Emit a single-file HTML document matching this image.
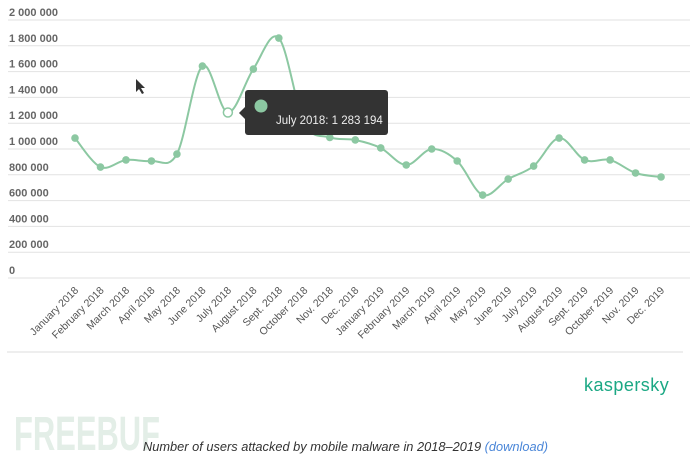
<!DOCTYPE html>
<html><head><meta charset="utf-8"><style>
body{margin:0;background:#fff;width:690px;height:460px;overflow:hidden;font-family:"Liberation Sans",sans-serif}
</style></head><body>
<svg id="s" width="690" height="460" xmlns="http://www.w3.org/2000/svg" font-family="Liberation Sans, sans-serif">
<g id="grid"></g>
<path id="ln" fill="none" stroke="#8cc8a2" stroke-width="2"/>
<g id="pts"></g>
<g id="lbl"></g>
<line x1="7" y1="352" x2="683" y2="352" stroke="#ddd"/>
<text x="584" y="391" font-size="18" fill="#1ba884" textLength="85" letter-spacing="0.3">kaspersky</text>
<text x="14" y="450" font-size="48" fill="#e3eee7" font-weight="bold" textLength="146" lengthAdjust="spacingAndGlyphs">FREEBUF</text>
<text x="143" y="451" font-size="12.6" font-style="italic" fill="#333" textLength="405" lengthAdjust="spacingAndGlyphs">Number of users attacked by mobile malware in 2018–2019 <tspan fill="#4a86d8">(download)</tspan></text>
<path d="M136 79 l0 13 l3 -3 l3 5 l2 -1 l-3 -5 l4 0z" fill="#333"/>
<g id="tt">
<rect x="245" y="90" width="143" height="45" rx="3" fill="#333"/>
<path d="M245 107 l-6 6 l6 6z" fill="#333"/>
<circle cx="261" cy="106" r="6.5" fill="#8cc8a2"/>
<text x="276" y="124" font-size="11.5" fill="#eee">July 2018: 1 283 194</text>
</g>
</svg>
<script>
var ns="http://www.w3.org/2000/svg";
function el(t,a,p,txt){var e=document.createElementNS(ns,t);for(var k in a)e.setAttribute(k,a[k]);if(txt)e.textContent=txt;document.getElementById(p).appendChild(e);return e;}
var labs=["2 000 000","1 800 000","1 600 000","1 400 000","1 200 000","1 000 000","800 000","600 000","400 000","200 000","0"];
for(var i=0;i<11;i++){var y=20+i*25.8;
el("line",{x1:8,x2:690,y1:y,y2:y,stroke:"#e2e2e2"},"grid");
el("text",{x:9,y:y-4,"font-size":"11","font-weight":"bold",fill:"#666"},"grid",labs[i]);}
var v=[1085,860,915,907,961,1643,1283,1620,1860,1200,1090,1070,1008,876,1000,907,643,767,868,1085,915,915,814,783];
var m=["January 2018","February 2018","March 2018","April 2018","May 2018","June 2018","July 2018","August 2018","Sept. 2018","October 2018","Nov. 2018","Dec. 2018","January 2019","February 2019","March 2019","April 2019","May 2019","June 2019","July 2019","August 2019","Sept. 2019","October 2019","Nov. 2019","Dec. 2019"];
var P=v.map(function(d,i){return [75+i*25.48,278-d/2000*258];});
var d="M"+P[0][0]+" "+P[0][1];
for(var i=0;i<P.length-1;i++){var p0=P[Math.max(0,i-1)],p1=P[i],p2=P[i+1],p3=P[Math.min(P.length-1,i+2)];
d+=" C"+(p1[0]+(p2[0]-p0[0])/6)+" "+(p1[1]+(p2[1]-p0[1])/6)+" "+(p2[0]-(p3[0]-p1[0])/6)+" "+(p2[1]-(p3[1]-p1[1])/6)+" "+p2[0]+" "+p2[1];}
document.getElementById("ln").setAttribute("d",d);
P.forEach(function(p,i){
if(i==6)el("circle",{cx:p[0],cy:p[1],r:4.5,fill:"#fff",stroke:"#8cc8a2","stroke-width":1.5},"pts");
else el("circle",{cx:p[0],cy:p[1],r:3.8,fill:"#8cc8a2"},"pts");
el("text",{x:0,y:0,"font-size":"10.5",fill:"#555","text-anchor":"end",transform:"translate("+(p[0]+4)+",291) rotate(-45)"},"lbl",m[i]);
});
</script>
</body></html>
